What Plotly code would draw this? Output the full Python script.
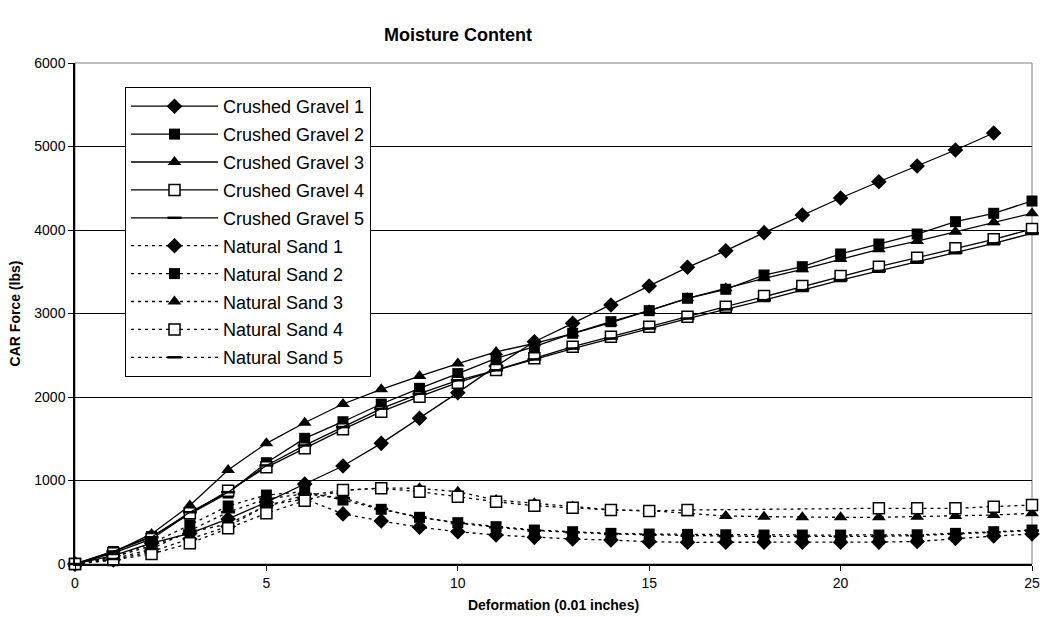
import plotly.graph_objects as go

x = list(range(26))

gravel_1 = [0, 100, 250, 367, 540, 740, 958, 1174, 1445, 1745, 2052, 2370, 2662, 2882, 3102,
            3330, 3553, 3752, 3968, 4180, 4383, 4578, 4766, 4958, 5162]
gravel_2 = [0, 150, 330, 600, 850, 1213, 1505, 1704, 1916, 2104, 2280, 2463, 2602, 2763, 2902,
            3034, 3182, 3290, 3461, 3561, 3713, 3832, 3952, 4100, 4200, 4347]
gravel_3 = [0, 140, 360, 700, 1126, 1445, 1692, 1916, 2092, 2251, 2400, 2540, 2643, 2760, 2890,
            3040, 3182, 3301, 3421, 3529, 3653, 3768, 3868, 3980, 4092, 4200]
gravel_4 = [0, 130, 300, 607, 878, 1158, 1385, 1613, 1824, 2004, 2171, 2323, 2463, 2602, 2722,
            2842, 2962, 3082, 3210, 3329, 3449, 3561, 3668, 3780, 3888, 4012]
gravel_5 = [0, 150, 320, 620, 860, 1180, 1420, 1640, 1860, 2040, 2200, 2320, 2450, 2580, 2700,
            2820, 2940, 3050, 3160, 3280, 3400, 3510, 3620, 3730, 3840, 3960]

sand_1 = [0, 50, 150, 300, 450, 700, 780, 600, 515, 440, 387, 347, 319, 299, 287,
          267, 260, 260, 260, 260, 260, 262, 270, 307, 335, 359]
sand_2 = [0, 80, 250, 467, 695, 826, 866, 766, 655, 559, 495, 447, 407, 387, 367,
          359, 355, 350, 347, 347, 347, 347, 350, 367, 387, 407]
sand_3 = [0, 80, 220, 380, 480, 700, 820, 880, 910, 906, 866, 766, 727, 687, 650,
          640, 607, 575, 567, 559, 559, 559, 567, 575, 587, 607]
sand_4 = [0, 48, 120, 248, 427, 607, 758, 886, 906, 866, 806, 746, 698, 674, 647,
          635, 647, None, None, None, None, 667, 667, 667, 687, 707]
sand_5 = [0, 60, 180, 400, 620, 780, 840, 790, 660, 560, 490, 440, 400, 380, 360,
          350, 340, 335, 330, 330, 330, 332, 340, 360, 380, 400]

names = ["Crushed Gravel 1", "Crushed Gravel 2", "Crushed Gravel 3", "Crushed Gravel 4",
         "Crushed Gravel 5", "Natural Sand 1", "Natural Sand 2", "Natural Sand 3",
         "Natural Sand 4", "Natural Sand 5"]
series = [gravel_1, gravel_2, gravel_3, gravel_4, gravel_5,
          sand_1, sand_2, sand_3, sand_4, sand_5]

markers = [
    dict(symbol="diamond", size=12, color="black"),
    dict(symbol="square", size=11, color="black"),
    dict(symbol="triangle-up", size=12, color="black"),
    dict(symbol="square", size=11, color="white", line=dict(color="black", width=1.5)),
    dict(symbol="line-ew", size=10, color="black", line=dict(color="black", width=2.5)),
]

fig = go.Figure()
for i, (nm, ys) in enumerate(zip(names, series)):
    dash = "solid" if i < 5 else "3px,4px"
    fig.add_trace(go.Scatter(
        x=x[:len(ys)], y=ys, name=nm, mode="lines+markers",
        line=dict(color="black", width=1.3, dash=dash),
        marker=markers[i % 5], connectgaps=True, cliponaxis=False,
        legendgroup=nm,
    ))

L, R, T, B = 75, 1032, 63, 564
W, H = R - L, B - T

fig.update_layout(
    width=1040, height=617,
    paper_bgcolor="white", plot_bgcolor="white",
    margin=dict(l=L, r=1040 - R, t=T, b=617 - B, autoexpand=False),
    font=dict(family="Arial, Liberation Sans, sans-serif", color="black", size=14),
    showlegend=True,
    legend=dict(
        x=(125 - L) / W, y=(B - 87) / H, xanchor="left", yanchor="top",
        bgcolor="white", bordercolor="black", borderwidth=1,
        font=dict(size=18, family="Arial, Liberation Sans, sans-serif"),
        tracegroupgap=1.5, itemwidth=87,
    ),
    annotations=[dict(
        text="<b>Moisture Content</b>", xref="paper", yref="paper",
        x=(458 - L) / W, y=(B - 35) / H, xanchor="center", yanchor="middle",
        showarrow=False, font=dict(size=18),
    )],
)

fig.update_xaxes(
    range=[0, 25], dtick=5, tick0=0, showgrid=False, zeroline=False, automargin=False,
    showline=True, linecolor="black", linewidth=1.5, ticklabeloverflow="allow",
    ticks="outside", ticklen=5, tickcolor="black", tickfont=dict(size=14),
    title=dict(text="<b>Deformation (0.01 inches)</b>", font=dict(size=14), standoff=11),
)
fig.update_yaxes(
    range=[0, 6000], dtick=1000, tick0=0, showgrid=True, gridcolor="black", gridwidth=1,
    zeroline=False, showline=True, linecolor="black", linewidth=1.5, automargin=False,
    ticks="outside", ticklen=5, tickcolor="black", tickfont=dict(size=14),
    title=dict(text="<b>CAR Force (lbs)</b>", font=dict(size=14), standoff=10),
)
fig.add_shape(type="rect", xref="paper", yref="paper", x0=0, y0=0, x1=1, y1=1,
              line=dict(color="#808080", width=1), layer="below")

fig.write_html("out.html")
